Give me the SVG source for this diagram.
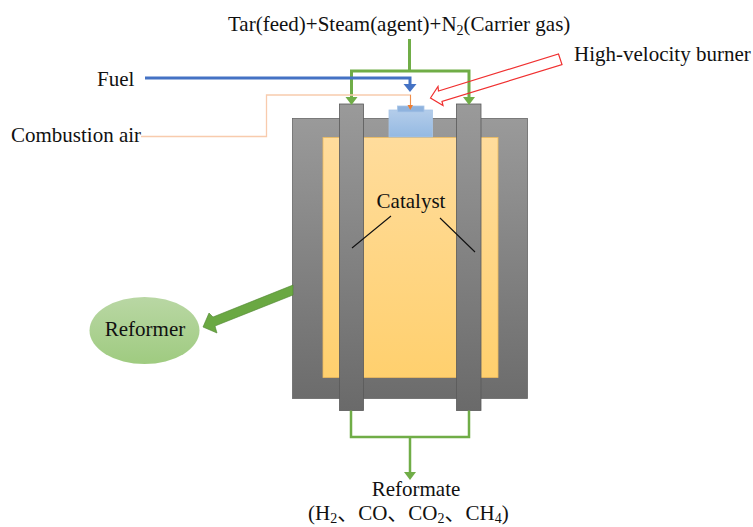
<svg xmlns="http://www.w3.org/2000/svg" width="753" height="527" viewBox="0 0 753 527">
<style>
text{font-family:"Liberation Serif","Noto Sans CJK SC",serif;font-size:21px;fill:#111}
.sub{font-size:14px}
.g{fill:none;stroke:#70ad47}
</style>
<defs>
<linearGradient id="gray" x1="0" y1="0" x2="0" y2="1"><stop offset="0" stop-color="#9a9a9a"/><stop offset="1" stop-color="#6c6c6c"/></linearGradient>
<linearGradient id="gray2" gradientUnits="userSpaceOnUse" x1="0" y1="104" x2="0" y2="410"><stop offset="0" stop-color="#9a9a9a"/><stop offset="1" stop-color="#6a6a6a"/></linearGradient>
<linearGradient id="yel" x1="0" y1="0" x2="0" y2="1"><stop offset="0" stop-color="#ffdc9c"/><stop offset="1" stop-color="#ffd06e"/></linearGradient>
<linearGradient id="blue" x1="0" y1="0" x2="0" y2="1"><stop offset="0" stop-color="#b4cdea"/><stop offset="1" stop-color="#94b9e2"/></linearGradient>
<linearGradient id="ell" x1="0" y1="0" x2="0" y2="1"><stop offset="0" stop-color="#b9d7a4"/><stop offset="1" stop-color="#9fcb80"/></linearGradient>
</defs>
<g id="furnace"><rect x="292.500" y="118.500" width="235" height="280" fill="url(#gray)" stroke="#666" stroke-width="0.800"/></g>
<g id="catalyst-bed"><rect x="323" y="137.500" width="175" height="240" fill="url(#yel)" stroke="#eebb5e" stroke-width="0.800"/></g>
<g id="tube-left"><rect x="339.500" y="104" width="24" height="306.500" fill="url(#gray2)" stroke="#5a5a5a" stroke-width="0.800"/></g>
<g id="tube-right"><rect x="456.500" y="104" width="24.500" height="306.500" fill="url(#gray2)" stroke="#5a5a5a" stroke-width="0.800"/></g>
<g id="burner">
<rect x="389" y="110" width="43.500" height="27" fill="url(#blue)" stroke="#a9c6e8" stroke-width="0.800"/>
<rect x="397.500" y="106" width="26.500" height="6" fill="#8fb3de" stroke="#a9c6e8" stroke-width="0.800"/>
</g>
<g id="connectors">
<path class="g" stroke-width="3" d="M409.500 39V71M351.500 99V71H469V99"/>
<path d="M345.500 97H357.500L351.500 105ZM463 97H475L469 105Z" fill="#70ad47"/>
<path d="M145 78H410V86" fill="none" stroke="#4472c4" stroke-width="3"/>
<path d="M403.500 84H416.500L410 92Z" fill="#4472c4"/>
<path d="M141 136.500H266.500V95H410.500V105" fill="none" stroke="#f8cbad" stroke-width="1.300"/>
<path d="M410.500 95V105" fill="none" stroke="#ed7d31" stroke-width="0.800"/>
<path d="M407.500 105H413L410.300 110Z" fill="#ed7d31"/>
<path d="M558.500 54L562 64.500L442 101.500L443 105.500L430.500 98L438 86.500L438.500 91Z" fill="none" stroke="#f03030" stroke-width="1.200"/>
<path class="g" stroke-width="2.500" d="M351 410.500V437H469V410.500M410 437V475"/>
<path d="M404 472H416L410 480Z" fill="#70ad47"/>
<path d="M293 285L213 317L209 313L203 327L217 333L215 326L293 295Z" fill="#6aa842" stroke="#4f8430" stroke-width="0.600"/>
<path d="M391 216L352 248M440 218L475 252" fill="none" stroke="#111" stroke-width="1.100"/>
</g>
<g id="reformer"><ellipse cx="144.500" cy="330.500" rx="55" ry="33.500" fill="url(#ell)"/><text x="145" y="336" text-anchor="middle">Reformer</text></g>
<g id="labels">
<text x="228" y="31">Tar(feed)+Steam(agent)+N<tspan class="sub" dy="4">2</tspan><tspan dy="-4">(Carrier gas)</tspan></text>
<text x="574" y="61">High-velocity burner</text>
<text x="97" y="86">Fuel</text>
<text x="11" y="142">Combustion air</text>
<text x="411" y="208" text-anchor="middle">Catalyst</text>
<text x="416" y="496" text-anchor="middle">Reformate</text>
<text x="308" y="520">(H<tspan class="sub" dy="3">2</tspan><tspan dy="-3">、CO、CO</tspan><tspan class="sub" dy="3">2</tspan><tspan dy="-3">、CH</tspan><tspan class="sub" dy="3">4</tspan><tspan dy="-3">)</tspan></text>
</g>
</svg>
